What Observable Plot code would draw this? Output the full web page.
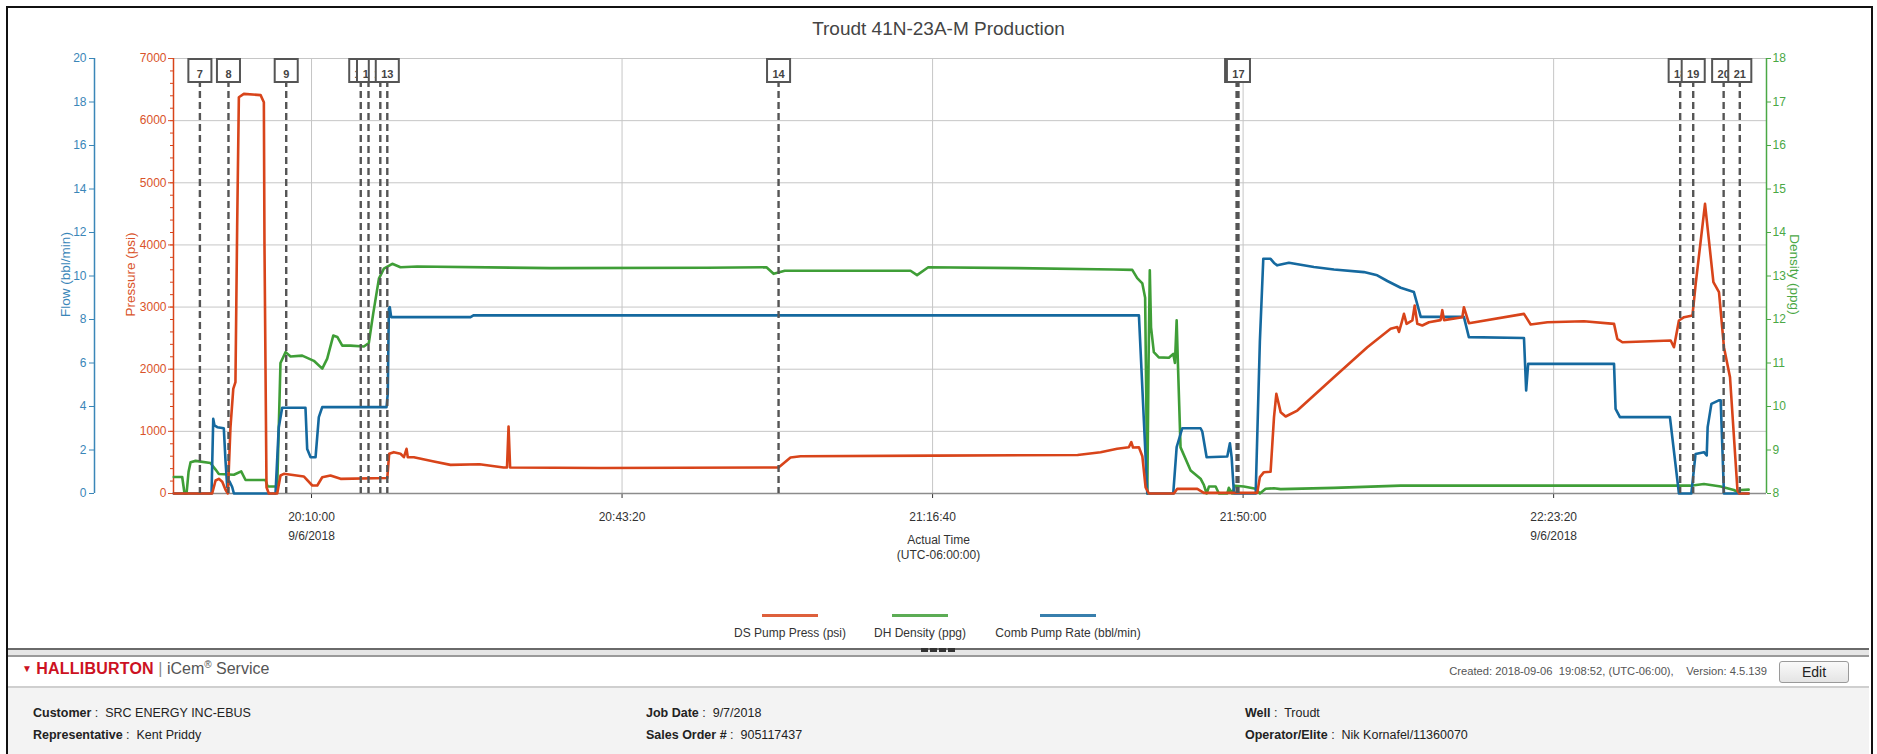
<!DOCTYPE html>
<html><head><meta charset="utf-8">
<script src="https://cdn.jsdelivr.net/npm/d3@7"></script>
<script src="https://cdn.jsdelivr.net/npm/@observablehq/plot@0.6"></script>
<style>
body{margin:0;background:#fff;font-family:"Liberation Sans",Arial,sans-serif;}
#wrap{position:relative;width:1877px;height:754px;overflow:hidden;background:#fff;}
#wrap svg{position:absolute;left:0;top:0;}
.abs{position:absolute;white-space:nowrap;}
.f{position:absolute;white-space:nowrap;font-size:12.5px;color:#222;}
.f b{font-weight:600;}
</style></head>
<body><div id="wrap"></div>
<script>
// ---------------- data ----------------
const chartTitle = "Troudt 41N-23A-M Production";
const xStart = "19:55:11", xEnd = "22:46:11";
const xTickTimes = ["20:10:00","20:43:20","21:16:40","21:50:00","22:23:20"];
const xDateTicks = ["20:10:00","22:23:20"];
const xDateLabel = "9/6/2018";
const pressureTicks = [0,1000,2000,3000,4000,5000,6000,7000];
const flowTicks = [0,2,4,6,8,10,12,14,16,18,20];
const densityTicks = [8,9,10,11,12,13,14,15,16,17,18];

const seriesNames = ["DS Pump Press (psi)","DH Density (ppg)","Comb Pump Rate (bbl/min)"];

const pressTime = ["19:55:13","19:59:20","19:59:42","20:00:03","20:00:25","20:00:46","20:01:01","20:01:18","20:01:36","20:01:50","20:02:01","20:02:12","20:02:44","20:04:32","20:04:53","20:04:57","20:05:10","20:05:25","20:06:19","20:06:40","20:07:02","20:09:10","20:10:05","20:10:37","20:11:09","20:12:02","20:13:07","20:18:08","20:18:20","20:18:50","20:19:33","20:19:55","20:20:12","20:20:20","20:20:59","20:23:08","20:24:55","20:28:02","20:30:37","20:30:59","20:31:09","20:31:19","20:41:02","21:00:08","21:01:25","21:02:30","21:16:53","21:32:14","21:34:42","21:36:29","21:37:44","21:38:00","21:38:11","21:38:49","21:39:11","21:39:32","21:39:53","21:42:34","21:42:56","21:45:05","21:45:47","21:51:31","21:51:48","21:52:14","21:52:57","21:53:19","21:53:34","21:54:02","21:54:34","21:55:49","21:59:45","22:03:20","22:05:50","22:06:33","22:06:44","22:07:01","22:07:16","22:07:33","22:08:10","22:08:25","22:08:42","22:09:14","22:09:57","22:11:12","22:11:23","22:11:34","22:13:32","22:13:42","22:14:14","22:20:09","22:20:52","22:22:40","22:26:35","22:29:49","22:30:10","22:30:43","22:35:54","22:36:15","22:36:47","22:37:20","22:38:14","22:38:35","22:39:35","22:40:29","22:41:05","22:41:37","22:42:16","22:43:04","22:43:15","22:44:16"];
const pressVal = [0,0,209,236,190,60,0,1067,1685,1791,4285,6377,6431,6410,6296,4000,101,0,0,290,317,274,129,129,262,290,236,250,639,665,640,584,719,584,584,515,461,470,418,418,1078,418,410,420,580,600,610,620,665,719,745,826,740,745,600,100,0,0,75,75,10,10,263,343,350,1228,1604,1308,1239,1335,1871,2354,2650,2680,2600,2750,2891,2730,2784,3025,2730,2703,2756,2790,2950,2790,2837,2998,2741,2891,2719,2756,2773,2730,2489,2434,2462,2354,2784,2837,2864,3374,4661,3400,3239,2354,1871,48,0,0];

const densTime = ["19:55:13","19:56:07","19:56:22","19:56:35","19:56:48","19:57:01","19:57:33","19:59:09","19:59:42","20:00:03","20:01:40","20:02:27","20:02:55","20:05:04","20:05:17","20:06:19","20:06:40","20:07:13","20:07:45","20:09:00","20:10:15","20:11:09","20:11:41","20:12:20","20:12:46","20:13:18","20:14:11","20:15:37","20:16:09","20:16:37","20:17:14","20:17:46","20:18:40","20:19:33","20:21:21","20:35:43","20:52:26","20:58:50","20:59:36","21:00:48","21:06:34","21:14:18","21:15:00","21:16:12","21:25:48","21:36:06","21:38:06","21:38:38","21:39:11","21:39:29","21:39:43","21:39:51","21:39:59","21:40:07","21:40:25","21:40:57","21:42:02","21:42:30","21:42:41","21:42:52","21:43:00","21:43:17","21:44:22","21:45:26","21:45:47","21:46:05","21:46:20","21:47:03","21:47:24","21:48:18","21:48:28","21:48:50","21:49:07","21:50:05","21:51:21","21:51:48","21:52:25","21:53:19","21:54:02","21:59:45","22:06:55","22:17:38","22:28:23","22:38:02","22:39:28","22:41:16","22:42:41","22:43:03","22:43:25","22:44:16"];
const densVal = [8.38,8.38,8.0,8.0,8.5,8.72,8.75,8.70,8.55,8.45,8.43,8.51,8.31,8.31,8.16,8.16,11.0,11.25,11.15,11.17,11.05,10.87,11.1,11.63,11.6,11.40,11.40,11.38,11.46,12.13,12.94,13.17,13.28,13.20,13.22,13.18,13.19,13.2,13.05,13.12,13.12,13.12,13.02,13.2,13.18,13.15,13.14,12.95,12.83,12.5,8.0,11.0,13.13,11.82,11.25,11.13,11.12,11.21,11.0,11.98,11.0,9.06,8.53,8.34,8.2,8.0,8.16,8.16,8.0,8.0,8.13,8.0,8.18,8.16,8.11,8.0,8.11,8.12,8.10,8.13,8.18,8.18,8.18,8.18,8.22,8.16,8.08,8.04,8.08,8.09];

const flowTime = ["19:55:13","19:59:16","19:59:27","19:59:35","19:59:53","20:00:35","20:00:46","20:00:57","20:01:12","20:01:29","20:01:40","20:06:08","20:06:29","20:06:51","20:09:21","20:09:32","20:09:54","20:10:26","20:10:47","20:11:09","20:18:03","20:18:11","20:18:18","20:18:24","20:18:33","20:27:04","20:27:23","21:38:49","21:39:43","21:42:30","21:42:52","21:43:28","21:45:26","21:45:37","21:46:05","21:48:18","21:48:35","21:48:46","21:49:01","21:51:21","21:51:48","21:52:10","21:52:57","21:53:19","21:53:40","21:54:55","21:57:36","21:59:45","22:02:58","22:04:24","22:05:29","22:06:55","22:08:20","22:08:38","22:09:04","22:13:42","22:14:14","22:20:09","22:20:23","22:20:36","22:29:49","22:29:59","22:30:27","22:35:49","22:36:47","22:38:07","22:38:34","22:39:28","22:39:46","22:39:52","22:40:16","22:41:04","22:41:16","22:41:37","22:44:16"];
const flowVal = [0,0,3.43,3.13,3.05,3.0,1.5,0.3,0.55,0.3,0,0,3.05,3.94,3.94,2.05,1.67,1.67,3.51,3.97,3.97,4.58,8.49,8.57,8.11,8.11,8.19,8.19,0,0,2.13,3.0,3.0,2.85,1.67,1.70,2.31,1.67,0,0,7.0,10.79,10.79,10.6,10.49,10.61,10.41,10.30,10.18,10.03,9.77,9.46,9.26,8.8,8.12,8.12,7.19,7.15,4.74,5.96,5.96,3.89,3.51,3.51,0,0,1.82,1.9,1.75,3.05,4.12,4.28,4.28,0,0];

const markerLabels = ["7","8","9","10","11","12","13","14","15","16","17","18","19","20","21"];
const markerTimes = ["19:58:01","20:01:05","20:07:17","20:15:17","20:16:07","20:17:23","20:18:08","21:00:08","21:49:18","21:49:25","21:49:30","22:36:55","22:38:19","22:41:35","22:43:19"];

// ---------------- styling ----------------
const RED = "#d8441a", GREEN = "#3f9e37", BLUE = "#15699f";
const RED_T = "#d9532a", GREEN_T = "#4aa845", BLUE_T = "#3a86b8";
const FONT = "'Liberation Sans', Arial, sans-serif";

const parse = d3.timeParse("%H:%M:%S");
const fmt = d3.timeFormat("%H:%M:%S");
const xDomain = [parse(xStart), parse(xEnd)];
const xTicks = xTickTimes.map(parse);
const dateSet = new Set(xDateTicks);
const toRows = (ts, vs) => ts.map((t, i) => ({t: parse(t), v: vs[i]}));
const press = toRows(pressTime, pressVal);
const dens = toRows(densTime, densVal);
const flow = toRows(flowTime, flowVal);
const markers = markerTimes.map((t, i) => ({t: parse(t), label: markerLabels[i]}));

const base = {
  width: 1877, height: 600,
  marginTop: 58, marginBottom: 107, marginLeft: 173, marginRight: 111,
  style: {fontFamily: FONT, fontSize: "12px", background: "transparent", overflow: "visible", color: "#333"}
};

const wrap = document.getElementById("wrap");

// layer 1: grid, x axis, pressure axis
wrap.appendChild(Plot.plot({
  ...base,
  x: {type: "time", domain: xDomain},
  y: {domain: [0, 7000]},
  marks: [
    Plot.gridX({ticks: xTicks, stroke: "#c6c6c6", strokeOpacity: 1}),
    Plot.gridY({ticks: pressureTicks.filter(d => d > 0), stroke: "#c6c6c6", strokeOpacity: 1}),
    Plot.axisX({ticks: xTicks, tickSize: 5, tickPadding: 8, lineHeight: 1.65, color: "#333", label: null,
      tickFormat: d => dateSet.has(fmt(d)) ? fmt(d) + "\n" + xDateLabel : fmt(d)}),
    Plot.ruleY([0], {stroke: "#8c8c8c", strokeWidth: 1.5}),
    Plot.axisY({ticks: d3.range(0, 7001, 200), tickSize: 3, tickFormat: () => "", color: RED, label: null}),
    Plot.axisY({ticks: pressureTicks, tickSize: 5, tickPadding: 2, tickFormat: d => String(d), color: RED_T, label: null}),
    Plot.ruleX([xDomain[0]], {stroke: RED, strokeWidth: 1.5})
  ]
}));

// layer 2: density
wrap.appendChild(Plot.plot({
  ...base,
  x: {type: "time", domain: xDomain, axis: null},
  y: {domain: [8, 18]},
  marks: [
    Plot.axisY({anchor: "right", ticks: densityTicks, tickSize: 4, tickPadding: 2, color: GREEN_T, label: null}),
    Plot.ruleX([xDomain[1]], {stroke: GREEN_T, strokeWidth: 1.5}),
    Plot.line(dens, {x: "t", y: "v", stroke: GREEN, strokeWidth: 2.6})
  ]
}));

// layer 3: flow
wrap.appendChild(Plot.plot({
  ...base,
  x: {type: "time", domain: xDomain, axis: null},
  y: {domain: [0, 20]},
  marks: [
    Plot.axisY({anchor: "left", ticks: flowTicks, tickSize: 5, tickPadding: 3, dx: -79, color: BLUE_T, label: null}),
    Plot.ruleX([xDomain[0]], {stroke: BLUE_T, strokeWidth: 1.5, dx: -79}),
    Plot.line(flow, {x: "t", y: "v", stroke: BLUE, strokeWidth: 2.6})
  ]
}));

// layer 4: pressure line
wrap.appendChild(Plot.plot({
  ...base,
  x: {type: "time", domain: xDomain, axis: null},
  y: {domain: [0, 7000], axis: null},
  marks: [
    Plot.line(press, {x: "t", y: "v", stroke: RED, strokeWidth: 2.6})
  ]
}));

// layer 5: event markers
wrap.appendChild(Plot.plot({
  ...base,
  x: {type: "time", domain: xDomain, axis: null},
  marks: [
    Plot.ruleX(markers, {x: "t", stroke: "#555", strokeWidth: 2.4, strokeDasharray: "7,4"}),
    ...markers.flatMap(m => [
      Plot.dot([m], {x: "t", frameAnchor: "top", dy: 12, symbol: "square", r: 13, fill: "white", stroke: "#555", strokeWidth: 2}),
      Plot.text([m], {x: "t", text: "label", frameAnchor: "top", dy: 12, fontSize: 11, fontWeight: "bold", fill: "#444"})
    ])
  ]
}));

// ---------------- html text ----------------
function addDiv(html, css) {
  const d = document.createElement("div");
  d.className = "abs";
  d.style.cssText = css;
  d.innerHTML = html;
  wrap.appendChild(d);
  return d;
}
addDiv("", "left:6px;top:6px;width:1863px;height:800px;border:2px solid #111;border-bottom:none;box-sizing:content-box;");
addDiv(chartTitle, "left:0;top:18px;width:1877px;text-align:center;font-size:19px;color:#444;");
addDiv("Flow (bbl/min)", `left:${65-60}px;top:${275-8}px;width:120px;text-align:center;font-size:13.5px;color:${BLUE_T};transform:rotate(-90deg);`);
addDiv("Pressure (psi)", `left:${130-60}px;top:${275-8}px;width:120px;text-align:center;font-size:13.5px;color:${RED_T};transform:rotate(-90deg);`);
addDiv("Density (ppg)", `left:${1794-60}px;top:${275-8}px;width:120px;text-align:center;font-size:13.5px;color:${GREEN_T};transform:rotate(90deg);`);
addDiv("Actual Time<br>(UTC-06:00:00)", "left:0;top:533px;width:1877px;text-align:center;font-size:12px;line-height:15px;color:#333;");

// legend
const legendColors = [RED, GREEN, BLUE];
const legendCenters = [790, 920, 1068];
seriesNames.forEach((n, i) => {
  addDiv(`<div style="width:56px;height:3px;margin:0 auto 9px;background:${legendColors[i]};opacity:.85"></div>${n}`,
    `left:${legendCenters[i]-110}px;top:614px;width:220px;text-align:center;font-size:12px;color:#333;`);
});

// footer
addDiv("", "left:8px;top:648px;width:1861px;height:5px;border-top:2px solid #6a6a6a;border-bottom:2px solid #9a9a9a;background:#e6e6e6;");
addDiv("", "left:921px;top:648px;width:36px;height:4px;background:repeating-linear-gradient(90deg,#333 0 7px,transparent 7px 9px);");
addDiv(`<span style="color:#cc1122;font-size:10px;vertical-align:2px">&#9660;</span> <span style="color:#cc1122;font-weight:bold;letter-spacing:0.2px">HALLIBURTON</span> <span style="color:#888">|</span> <span style="color:#555">iCem<sup style="font-size:10px">&reg;</sup> Service</span>`,
  "left:22px;top:659px;font-size:16px;");
addDiv("Created: 2018-09-06&nbsp; 19:08:52, (UTC-06:00),&nbsp;&nbsp;&nbsp; Version: 4.5.139", "left:0;width:1767px;text-align:right;top:665px;font-size:11.2px;color:#555;");
addDiv("Edit", "left:1779px;top:661px;width:68px;height:20px;line-height:20px;text-align:center;border:1px solid #9a9a9a;border-radius:3px;background:linear-gradient(#fafafa,#e4e4e4);font-size:14px;color:#222;");
addDiv("", "left:8px;top:686px;width:1861px;height:2px;background:#cfcfcf;");
addDiv("", "left:8px;top:688px;width:1861px;height:70px;background:#f3f3f3;");

const footerRows = [
  ["Customer", "SRC ENERGY INC-EBUS", 33, 706],
  ["Representative", "Kent Priddy", 33, 728],
  ["Job Date", "9/7/2018", 646, 706],
  ["Sales Order #", "905117437", 646, 728],
  ["Well", "Troudt", 1245, 706],
  ["Operator/Elite", "Nik Kornafel/11360070", 1245, 728]
];
footerRows.forEach(([k, v, x, y]) => {
  const d = addDiv(`<b>${k}</b> :&nbsp; ${v}`, `left:${x}px;top:${y}px;`);
  d.className = "f";
});
</script>
</body></html>
